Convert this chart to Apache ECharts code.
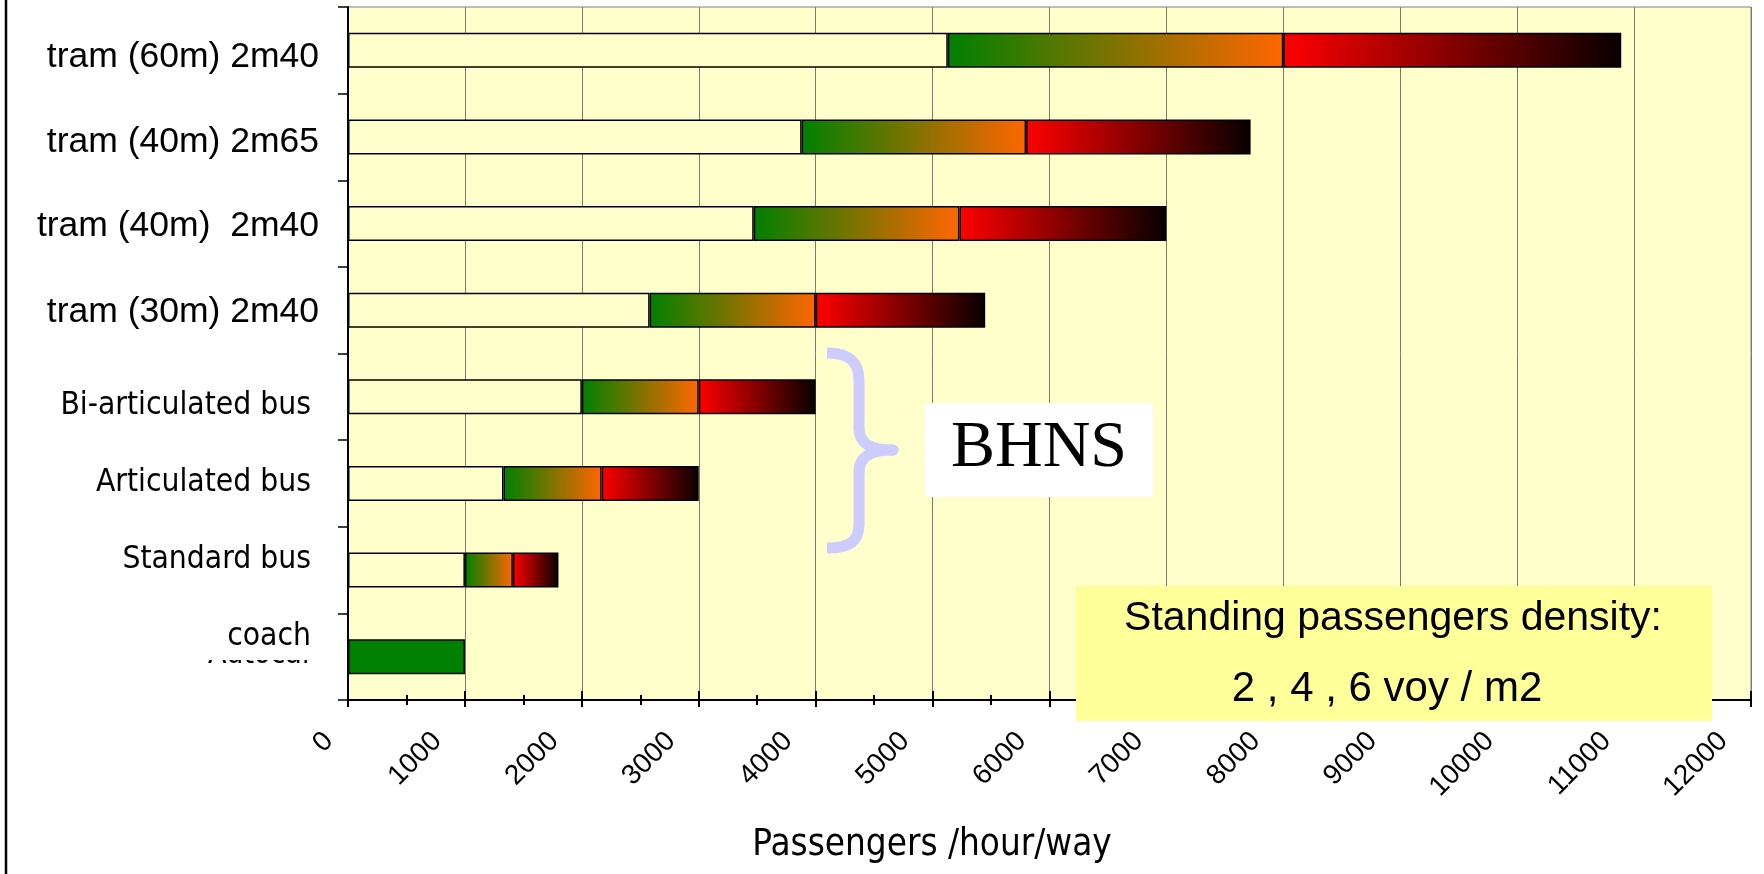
<!DOCTYPE html>
<html>
<head>
<meta charset="utf-8">
<script src="https://cdn.jsdelivr.net/npm/echarts@6/dist/echarts.min.js"></script>
<style>
  html, body { margin: 0; padding: 0; background: #ffffff; }
  #chart { width: 1764px; height: 874px; }
</style>
</head>
<body>
<div id="chart"></div>
<script>
// Vehicle types, listed from the bottom row to the top row
const categories = [
  'coach',
  'Standard bus',
  'Articulated bus',
  'Bi-articulated bus',
  'tram (30m) 2m40',
  'tram (40m)  2m40',
  'tram (40m) 2m65',
  'tram (60m) 2m40'
];
// Line capacity (passengers/hour/way) at 2, 4 and 6 standing passengers per m2
const cap2 = [0, 1000, 1330, 2000, 2580, 3470, 3880, 5130];
const cap4 = [1000, 1410, 2170, 3000, 4000, 5230, 5800, 8000];
const cap6 = [null, 1800, 3000, 4000, 5450, 7000, 7720, 10890];
// Value axis range and step
const axisMin = 0;
const axisMax = 12000;
const axisStep = 1000;

const SANS = '"Liberation Sans", Arial, sans-serif';
const COND = '"DejaVu Sans Condensed", "Liberation Sans Narrow", "DejaVu Sans", sans-serif';
const SERIF = '"Liberation Serif", "Times New Roman", serif';

// Look of each category label (same order as categories): font, size, vertical nudge, right inset
const labelLook = [
  { font: COND, size: 31.5, dy: -20, inset: 8 },
  { font: COND, size: 31.5, dy: -10, inset: 8 },
  { font: COND, size: 31.5, dy: -1, inset: 8 },
  { font: COND, size: 31.5, dy: 9, inset: 8 },
  { font: SANS, size: 35.5, dy: 2, inset: 0 },
  { font: SANS, size: 35.5, dy: 3, inset: 0 },
  { font: SANS, size: 35.5, dy: 5, inset: 0 },
  { font: SANS, size: 35.5, dy: 7, inset: 0 }
];
const rich = {};
labelLook.forEach((l, i) => {
  rich['c' + i] = {
    fontFamily: l.font,
    fontSize: l.size,
    color: '#000000',
    padding: l.dy >= 0 ? [2 * l.dy, l.inset, 0, 0] : [0, l.inset, -2 * l.dy, 0]
  };
});

// Rotated value labels: the lone zero keeps closer to its tick than the longer numbers
const tickRich = {
  z: { fontFamily: SANS, fontSize: 28, color: '#000000', padding: [0, 24, 6, 0] },
  n: { fontFamily: SANS, fontSize: 28, color: '#000000', padding: [0, 30, 18, 0] }
};

// Stacked segments: seated/low density part, then 2->4 and 4->6 standing increments
const seg2 = cap2.slice();
const seg4 = cap4.map((v, i) => {
  const d = v - cap2[i];
  return cap2[i] === 0 ? { value: d, itemStyle: { color: '#008000' } } : d;
});
const seg6 = cap6.map((v, i) => (v == null ? '-' : v - cap4[i]));

const greenOrange = {
  type: 'linear', x: 0, y: 0, x2: 1, y2: 0,
  colorStops: [{ offset: 0, color: '#008000' }, { offset: 1, color: '#ff6600' }]
};
const redBlack = {
  type: 'linear', x: 0, y: 0, x2: 1, y2: 0,
  colorStops: [{ offset: 0, color: '#ff0000' }, { offset: 1, color: '#080000' }]
};

const chart = echarts.init(document.getElementById('chart'), null, { renderer: 'canvas' });

const barCommon = {
  type: 'bar',
  stack: 'capacity',
  barWidth: 35,
  xAxisIndex: 0,
  silent: true,
  animation: false
};

// Brace drawn from curve and line pieces
const braceColor = '#ccccff';
const braceWidth = 11;
function bez(x1, y1, c1x, c1y, c2x, c2y, x2, y2, cap) {
  return {
    type: 'bezierCurve', z: 100,
    shape: { x1: x1, y1: y1, cpx1: c1x, cpy1: c1y, cpx2: c2x, cpy2: c2y, x2: x2, y2: y2 },
    style: { stroke: braceColor, lineWidth: braceWidth, fill: null, lineCap: cap }
  };
}
function seg(x1, y1, x2, y2) {
  return {
    type: 'line', z: 100,
    shape: { x1: x1, y1: y1, x2: x2, y2: y2 },
    style: { stroke: braceColor, lineWidth: braceWidth, lineCap: 'round' }
  };
}
const brace = [
  bez(827, 353, 849, 353, 859, 361, 859, 381, 'butt'),
  seg(859, 381, 859, 428),
  bez(859, 428, 859, 443, 870, 450, 893, 450, 'round'),
  bez(893, 450, 870, 450, 859, 457, 859, 472, 'round'),
  seg(859, 472, 859, 524),
  bez(859, 524, 859, 542, 849, 548, 827, 548, 'butt')
];

chart.setOption({
  animation: false,
  backgroundColor: '#ffffff',
  grid: {
    left: 348, right: 13, top: 7, bottom: 174,
    show: true,
    backgroundColor: '#ffffcc',
    borderColor: '#808080',
    borderWidth: 1
  },
  xAxis: [
    {
      type: 'value',
      min: axisMin, max: axisMax, interval: axisStep,
      position: 'bottom',
      axisLine: { show: true, lineStyle: { color: '#000000', width: 2 } },
      axisTick: { show: true, length: 7, lineStyle: { color: '#000000', width: 2 } },
      minorTick: { show: true, splitNumber: 2, length: 5, lineStyle: { color: '#000000', width: 2 } },
      axisLabel: {
        rotate: 45, margin: 22,
        formatter: (v) => (v === 0 ? '{z|0}' : '{n|' + v + '}'),
        rich: tickRich
      },
      splitLine: { show: true, lineStyle: { color: '#7a7a6e', width: 1 } }
    },
    {
      type: 'value',
      min: axisMin, max: axisMax, interval: axisStep,
      position: 'bottom',
      axisLine: { show: false },
      axisTick: { show: true, inside: true, length: 9, lineStyle: { color: '#000000', width: 2 } },
      minorTick: { show: true, splitNumber: 2, length: 5, lineStyle: { color: '#000000', width: 2 } },
      axisLabel: { show: false },
      splitLine: { show: false }
    }
  ],
  yAxis: {
    type: 'category',
    data: categories,
    axisLine: { show: true, lineStyle: { color: '#000000', width: 2 } },
    axisTick: { show: true, length: 10, lineStyle: { color: '#000000', width: 1.5 } },
    axisLabel: {
      interval: 0,
      margin: 29,
      formatter: (value, index) => '{c' + index + '|' + value + '}',
      rich: rich
    },
    splitLine: { show: false }
  },
  series: [
    Object.assign({}, barCommon, {
      name: '2 voy/m2',
      data: seg2,
      itemStyle: { color: '#ffffcc', borderColor: '#000000', borderWidth: 1.5 }
    }),
    Object.assign({}, barCommon, {
      name: '4 voy/m2',
      data: seg4,
      itemStyle: { color: greenOrange, borderColor: '#000000', borderWidth: 1.5 }
    }),
    Object.assign({}, barCommon, {
      name: '6 voy/m2',
      data: seg6,
      itemStyle: { color: redBlack, borderColor: '#000000', borderWidth: 1.5 }
    })
  ],
  graphic: [
    // left edge of the frame
    { type: 'line', z: 100, shape: { x1: 6, y1: 0, x2: 6, y2: 874 },
      style: { stroke: '#000000', lineWidth: 2.5 } },
    // older label partly hidden under "coach"
    { type: 'text', z: -2, x: 313, y: 655,
      style: { text: 'Autocar', fill: '#000000', fontFamily: COND, fontSize: 30,
               align: 'right', textAlign: 'right', verticalAlign: 'middle', textVerticalAlign: 'middle' } },
    { type: 'rect', z: -1, shape: { x: 185, y: 628, width: 140, height: 32 },
      style: { fill: '#ffffff' } }
  ].concat(brace, [
    { type: 'rect', z: 100, shape: { x: 925, y: 403, width: 228, height: 94 },
      style: { fill: '#ffffff' } },
    { type: 'text', z: 101, x: 1039, y: 449,
      style: { text: 'BHNS', fill: '#000000', fontFamily: SERIF, fontSize: 66,
               align: 'center', textAlign: 'center', verticalAlign: 'middle', textVerticalAlign: 'middle' } },
    // density note
    { type: 'rect', z: 100, shape: { x: 1076, y: 586, width: 636, height: 135 },
      style: { fill: '#ffff99' } },
    { type: 'text', z: 101, x: 1393, y: 619,
      style: { text: 'Standing passengers density:', fill: '#000000', fontFamily: SANS, fontSize: 41,
               align: 'center', textAlign: 'center', verticalAlign: 'middle', textVerticalAlign: 'middle' } },
    { type: 'text', z: 101, x: 1387, y: 689,
      style: { text: '2 , 4 , 6 voy / m2', fill: '#000000', fontFamily: SANS, fontSize: 42,
               align: 'center', textAlign: 'center', verticalAlign: 'middle', textVerticalAlign: 'middle' } },
    // value axis title
    { type: 'text', z: 100, x: 932, y: 846,
      style: { text: 'Passengers /hour/way', fill: '#000000', fontFamily: COND, fontSize: 36.5,
               align: 'center', textAlign: 'center', verticalAlign: 'middle', textVerticalAlign: 'middle' } }
  ])
});
</script>
</body>
</html>
